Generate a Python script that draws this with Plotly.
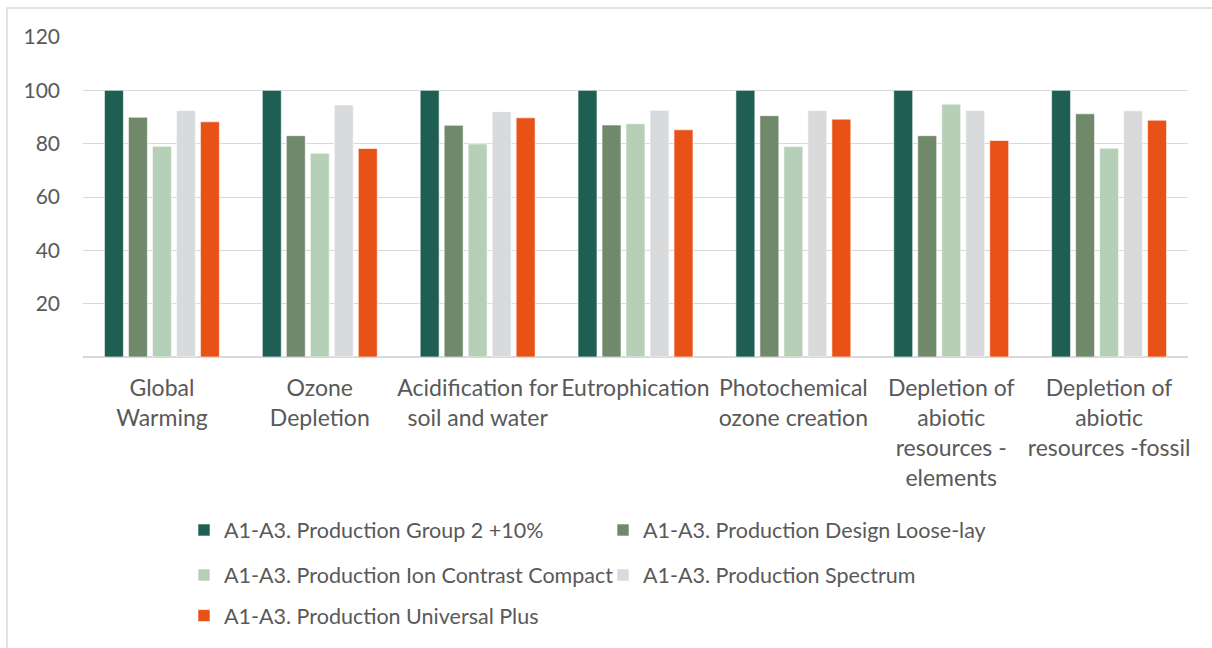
import plotly.graph_objects as go

categories = [
    "Global<br>Warming",
    "Ozone<br>Depletion",
    "Acidification for<br>soil and water",
    "Eutrophication",
    "Photochemical<br>ozone creation",
    "Depletion of<br>abiotic<br>resources -<br>elements",
    "Depletion of<br>abiotic<br>resources -fossil",
]

series_names = [
    "A1-A3. Production Group 2 +10%",
    "A1-A3. Production Design Loose-lay",
    "A1-A3. Production Ion Contrast Compact",
    "A1-A3. Production Spectrum",
    "A1-A3. Production Universal Plus",
]

group2_plus10 = [100, 100, 100, 100, 100, 100, 100]
design_loose_lay = [89.9, 83.0, 86.9, 87.0, 90.5, 83.0, 91.2]
ion_contrast_compact = [79.0, 76.4, 79.9, 87.5, 78.9, 94.8, 78.3]
spectrum = [92.4, 94.5, 92.0, 92.5, 92.4, 92.4, 92.3]
universal_plus = [88.2, 78.2, 89.7, 85.2, 89.2, 81.2, 88.8]

y_ticks = [20, 40, 60, 80, 100, 120]

colors = ["#1F5F53", "#71896B", "#B5D0B6", "#D9DADB", "#E85216"]
values = [group2_plus10, design_loose_lay, ion_contrast_compact, spectrum, universal_plus]
# one horizontal legend per legend row (two entries per row)
legend_ids = ["legend", "legend", "legend2", "legend2", "legend3"]

FONT = "Lato, 'Open Sans', sans-serif"
TXT = "#595959"

fig = go.Figure()
for i, (name, vals, col) in enumerate(zip(series_names, values, colors)):
    fig.add_trace(go.Bar(
        x=categories, y=vals, name=name,
        marker=dict(color=col, line=dict(color="white", width=0.6)),
        legend=legend_ids[i],
    ))

legend_common = dict(
    x=0.0914, xanchor="left", yanchor="top",
    orientation="h", entrywidth=374, entrywidthmode="pixels",
    font=dict(family=FONT, size=21.5, color=TXT), bgcolor="rgba(0,0,0,0)",
)

fig.update_layout(
    width=1212, height=648,
    margin=dict(l=83, r=24, t=37, b=291),
    paper_bgcolor="white", plot_bgcolor="white",
    barmode="group", bargap=0.24, bargroupgap=0.21,
    font=dict(family=FONT, size=21, color=TXT),
    showlegend=True,
    legend=dict(y=-0.4766, **legend_common),
    legend2=dict(y=-0.6172, **legend_common),
    legend3=dict(y=-0.744, **legend_common),
    shapes=[dict(type="rect", xref="paper", yref="paper",
                 x0=-0.0688, x1=1.03, y0=-0.95, y1=1.0906,
                 line=dict(color="#D9D9D9", width=1.5), layer="below")],
)
fig.update_yaxes(range=[0, 120], tickvals=y_ticks, showgrid=True, automargin=False,
                 gridcolor="#D9D9D9", gridwidth=1.3, zeroline=True,
                 zerolinecolor="#D9D9D9", zerolinewidth=1.5, showline=False,
                 ticklabelstandoff=22, tickfont=dict(family=FONT, size=21, color=TXT))
fig.update_xaxes(showline=False, showgrid=False, ticks="", automargin=False,
                 ticklabelstandoff=15, tickfont=dict(family=FONT, size=23, color=TXT))

fig.write_html("out.html", config={"displayModeBar": False},
               post_script="document.body.style.margin='0';document.body.style.overflow='hidden';")
